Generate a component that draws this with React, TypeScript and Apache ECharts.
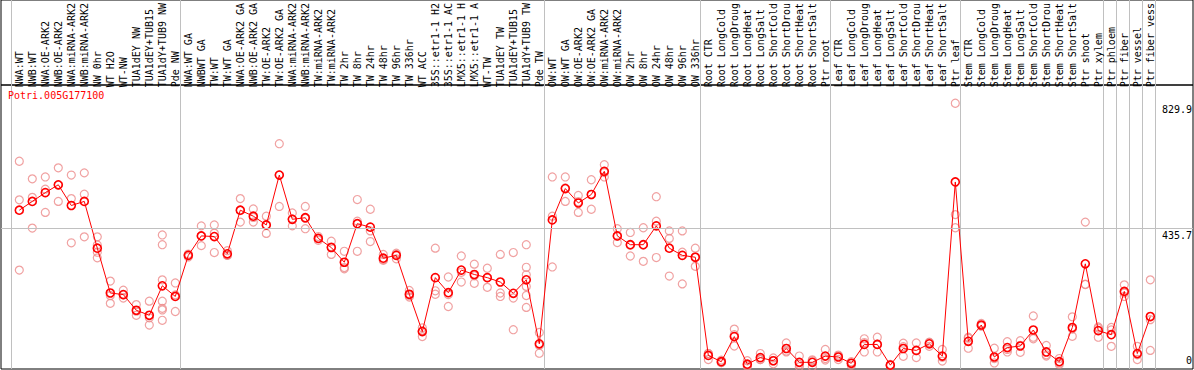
import React, { useEffect, useRef } from 'react';
import * as echarts from 'echarts';

const FONT = '"DejaVu Sans Mono", monospace';
const geneId = 'Potri.005G177100';

const categories = [
  'NWA:WT', 'NWB:WT', 'NWA:OE-ARK2', 'NWB:OE-ARK2', 'NWA:miRNA-ARK2', 'NWB:miRNA-ARK2', 'NW 0hr', 'WT H2O', 'WT-NW', 'TUA1dEY NW', 'TUA1dEY+TUB15', 'TUA1dY+TUB9 NW', 'Pde NW',
  'NWA:WT GA', 'NWBWT GA', 'TW:WT', 'TW:WT GA', 'NWA:OE-ARK2 GA', 'NWB:OE-ARK2 GA', 'TW:OE-ARK2', 'TW:OE-ARK2 GA', 'NWA:miRNA-ARK2', 'NWB:miRNA-ARK2', 'TW:miRNA-ARK2', 'TW:miRNA-ARK2',
  'TW 2hr', 'TW 8hr', 'TW 24hr', 'TW 48hr', 'TW 96hr', 'TW 336hr', 'WT ACC', '35S::etr1-1 H2', '35S::etr1-1 AC', 'LMX5::etr1-1 H', 'LMX5::etr1-1 A', 'WT-TW', 'TUA1dEY TW', 'TUA1dEY+TUB15', 'TUA1dY+TUB9 TW', 'Pde TW',
  'OW:WT', 'OW:WT GA', 'OW:OE-ARK2', 'OW:OE-ARK2 GA', 'OW:miRNA-ARK2', 'OW:miRNA-ARK2', 'OW 2hr', 'OW 8hr', 'OW 24hr', 'OW 48hr', 'OW 96hr', 'OW 336hr',
  'Root CTR', 'Root LongCold', 'Root LongDroug', 'Root LongHeat', 'Root LongSalt', 'Root ShortCold', 'Root ShortDrou', 'Root ShortHeat', 'Root ShortSalt', 'Ptr root',
  'Leaf CTR', 'Leaf LongCold', 'Leaf LongDroug', 'Leaf LongHeat', 'Leaf LongSalt', 'Leaf ShortCold', 'Leaf ShortDrou', 'Leaf ShortHeat', 'Leaf ShortSalt', 'Ptr leaf',
  'Stem CTR', 'Stem LongCold', 'Stem LongDroug', 'Stem LongHeat', 'Stem LongSalt', 'Stem ShortCold', 'Stem ShortDrou', 'Stem ShortHeat', 'Stem ShortSalt', 'Ptr shoot', 'Ptr xylem',
  'Ptr phloem', 'Ptr fiber', 'Ptr vessel', 'Ptr fiber vess',
];

const means = [
  501, 529, 557, 582, 516, 529, 380, 237, 232, 182, 166, 260, 226,
  357, 419, 417, 362, 501, 482, 454, 613, 472, 477, 411, 382,
  335, 458, 447, 348, 357, 233, 114, 286, 238, 310, 296, 286, 272, 236, 279, 75,
  470, 570, 524, 551, 625, 419, 391, 391, 451, 380, 357, 351,
  38, 18, 98, 10, 31, 21, 60, 16, 16, 36,
  33, 13, 73, 73, 7, 60, 54, 75, 36, 591,
  83, 135, 33, 63, 68, 119, 49, 18, 127, 330, 117,
  104, 242, 44, 162,
];

const replicates = [
  [657, 534, 310], [601, 542, 444], [607, 568, 494], [636, 529, 581], [613, 538, 397], [620, 552, 416],
  [416, 390, 367, 349], [275, 229, 204], [246, 221, 231], [200, 166, 179], [211, 158, 135],
  [422, 391, 279, 211, 188, 183, 150], [269, 178, 231],
  [352, 358, 361], [451, 388, 419], [454, 428, 366], [372, 357, 357], [538, 463, 500], [505, 463, 478],
  [482, 427, 453], [713, 513, 613], [492, 451, 473], [513, 442, 475], [405, 411, 417], [402, 360, 384],
  [370, 318, 314], [535, 466, 370], [504, 435, 401], [360, 341, 344], [364, 346, 360], [245, 224, 229],
  [117, 98, 126], [380, 244, 233], [288, 194, 232], [355, 272, 303], [329, 268, 292], [316, 255, 286],
  [360, 237, 226], [366, 221, 120], [391, 319, 295, 258, 229, 191], [111, 45, 70],
  [607, 482, 320], [607, 529, 572], [548, 494, 528], [598, 504, 551], [646, 607, 621], [442, 398, 418],
  [430, 355, 389], [445, 338, 390], [544, 466, 350], [435, 411, 291], [435, 367, 266], [380, 322, 352],
  [44, 25, 44], [23, 15, 15], [122, 68, 104], [21, 7, 3], [44, 25, 25], [30, 21, 11], [78, 49, 52],
  [36, 2, 9], [21, 2, 24], [57, 28, 23],
  [39, 25, 36], [18, 7, 13], [91, 49, 79], [96, 49, 74], [5, 8, 9], [77, 35, 66], [78, 31, 53],
  [80, 67, 79], [57, 20, 32], [842, 487, 445],
  [96, 61, 93], [140, 132, 132], [61, 28, 14], [82, 49, 57], [85, 70, 48], [164, 96, 91], [70, 36, 40],
  [28, 14, 10], [161, 99, 122], [463, 265, 264], [129, 96, 125],
  [127, 67, 119], [263, 226, 237], [67, 25, 40], [279, 54, 152],
];

// indices of the first category of each group (separator drawn at its left edge)
const groupStarts = [0, 13, 41, 53, 63, 73, 84, 85, 86, 87];

const yTickValues = [0, 435.7, 829.9];
const yTickLabels = ['0', '435.7', '829.9'];
const Y_MIN = -5.3;
const Y_MAX = 883.3;

export default function App() {
  const ref = useRef<HTMLDivElement>(null);

  useEffect(() => {
    document.body.style.margin = '0';
    const chart = echarts.init(ref.current as HTMLDivElement, null, { renderer: 'svg' });

    const repPoints: number[][] = [];
    replicates.forEach((arr, i) => arr.forEach((v) => repPoints.push([i, v])));

    chart.setOption({
      animation: false,
      backgroundColor: '#fff',
      title: {
        text: geneId,
        left: 8,
        top: 90,
        padding: 0,
        textStyle: { color: '#ff0000', fontFamily: FONT, fontSize: 10, fontWeight: 'normal' },
      },
      grid: [
        { left: 12.8, top: 85, width: 1144, height: 284 },
        { left: 1, right: 1, top: 85, height: 284, show: true, borderColor: '#000', borderWidth: 1, backgroundColor: 'transparent' },
        { left: 11, top: 0, width: 1144, height: 369 },
        { left: 1, right: 1, top: -10, height: 95, show: true, borderColor: '#000', borderWidth: 1, backgroundColor: 'transparent' },
      ],
      xAxis: [
        {
          gridIndex: 0,
          type: 'category',
          data: categories,
          position: 'top',
          boundaryGap: true,
          axisLine: { show: false },
          axisTick: { show: false },
          splitLine: { show: false },
          axisLabel: { interval: 0, rotate: 90, margin: 3, color: '#000', fontFamily: FONT, fontSize: 10 },
          z: 5,
        },
        { gridIndex: 1, type: 'value', min: 0, max: 1, show: false },
        {
          gridIndex: 2,
          type: 'category',
          data: categories,
          boundaryGap: true,
          axisLine: { show: false },
          axisTick: { show: false },
          axisLabel: { show: false },
          splitLine: {
            show: true,
            interval: (index: number) => groupStarts.indexOf(index) >= 0,
            lineStyle: { color: '#c0c0c0', width: 1 },
          },
          z: 0,
        },
        { gridIndex: 3, type: 'value', min: 0, max: 1, show: false },
      ],
      yAxis: [
        { gridIndex: 0, type: 'value', min: Y_MIN, max: Y_MAX, show: false },
        { gridIndex: 1, type: 'value', min: Y_MIN, max: Y_MAX, show: false },
        { gridIndex: 2, type: 'value', min: 0, max: 1, show: false },
        { gridIndex: 3, type: 'value', min: 0, max: 1, show: false },
      ],
      series: [
        {
          name: 'ticks',
          type: 'line',
          xAxisIndex: 1,
          yAxisIndex: 1,
          data: [],
          silent: true,
          z: 1,
          markLine: {
            silent: true,
            symbol: ['none', 'none'],
            animation: false,
            data: yTickValues.map((v, k) => ({
              yAxis: v,
              lineStyle: { color: k === 1 ? '#c0c0c0' : 'rgba(0,0,0,0)', width: 1, type: 'solid' },
              label: {
                show: true,
                position: k === 0 ? 'insideEndTop' : 'insideEndBottom',
                formatter: yTickLabels[k],
                color: '#000',
                fontFamily: FONT,
                fontSize: 10,
                distance: [1, 2],
              },
            })),
          },
        },
        {
          name: 'replicates',
          type: 'scatter',
          xAxisIndex: 0,
          yAxisIndex: 0,
          data: repPoints,
          symbol: 'circle',
          symbolSize: 8,
          itemStyle: { color: 'rgba(0,0,0,0)', borderColor: '#ec8a8a', borderWidth: 1.2 },
          z: 2,
          silent: true,
        },
        {
          name: 'mean',
          type: 'line',
          xAxisIndex: 0,
          yAxisIndex: 0,
          data: means,
          symbol: 'circle',
          symbolSize: 8,
          showAllSymbol: true,
          lineStyle: { color: '#ff0000', width: 1 },
          itemStyle: { color: 'rgba(0,0,0,0)', borderColor: '#ff0000', borderWidth: 1.6 },
          z: 3,
          silent: true,
        },
      ],
    });

    return () => chart.dispose();
  }, []);

  return <div ref={ref} style={{ width: 1194, height: 370 }} />;
}
